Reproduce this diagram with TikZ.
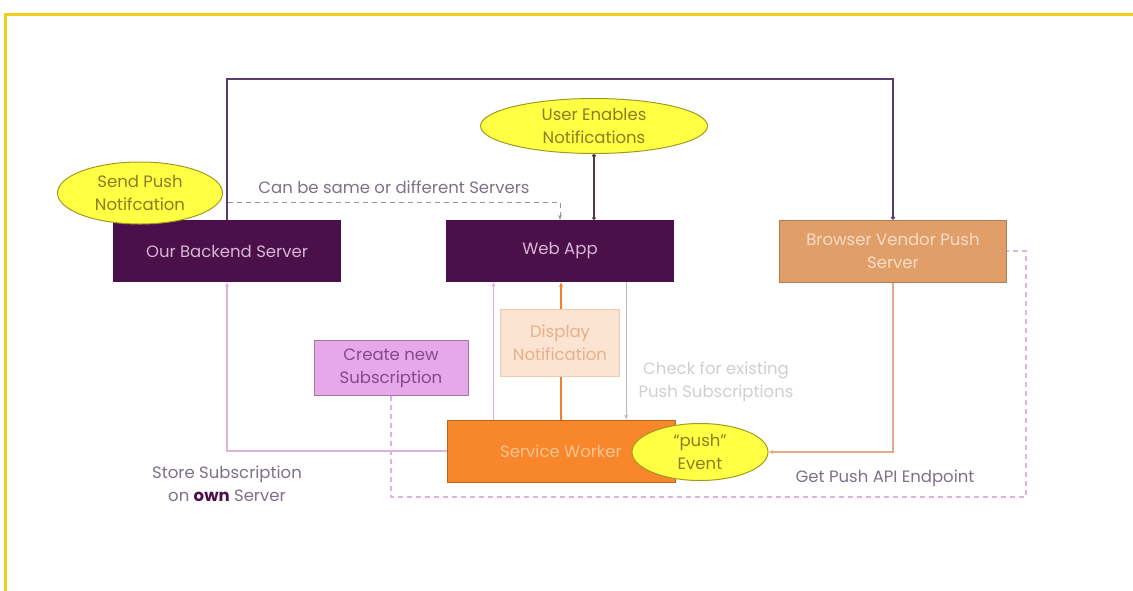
\documentclass[tikz,border=0pt]{standalone}
\usepackage{fontspec}
\setmainfont{Poppins}
\usetikzlibrary{arrows.meta,shapes.geometric,backgrounds}

\definecolor{frameyellow}{HTML}{F3CC1A}
\definecolor{plum}{HTML}{4B1049}
\definecolor{plumtext}{HTML}{D8B6D8}
\definecolor{topviolet}{HTML}{5E3A6E}
\definecolor{vendorfill}{HTML}{E09E68}
\definecolor{vendortext}{HTML}{F8DCC6}
\definecolor{workerfill}{HTML}{F7872A}
\definecolor{workertext}{HTML}{FBC490}
\definecolor{peachfill}{HTML}{FCE4D2}
\definecolor{peachdraw}{HTML}{F0CBAE}
\definecolor{peachtext}{HTML}{E6B088}
\definecolor{orchidfill}{HTML}{E6A8E8}
\definecolor{orchiddraw}{HTML}{A474A6}
\definecolor{orchidtext}{HTML}{86488C}
\definecolor{bubblefill}{HTML}{FFFF44}
\definecolor{bubbledraw}{HTML}{A09A22}
\definecolor{bubbletext}{HTML}{8A7E22}
\definecolor{lilac}{HTML}{DDB2DE}
\definecolor{lightgrey}{HTML}{BDB8C4}
\definecolor{tanline}{HTML}{E2AA8C}
\definecolor{orangeline}{HTML}{F0822E}
\definecolor{labelgrey}{HTML}{7E7088}
\definecolor{paletext}{HTML}{CFCFCF}
\definecolor{darkline}{HTML}{4A3A4A}

\begin{document}
\begin{tikzpicture}[x=1pt,y=-1pt,
  every node/.style={font=\fontsize{16.5}{23}\selectfont, align=center, inner sep=0pt},
  box/.style={rectangle, minimum height=62pt},
  darkbox/.style={box, fill=plum, text=plumtext, minimum width=228pt},
  vendorbox/.style={box, fill=vendorfill, draw=vendorfill!80!black, line width=0.8pt, text=vendortext, minimum width=227pt},
  workerbox/.style={box, fill=workerfill, draw=workerfill!75!black, line width=0.8pt, text=workertext, minimum width=228pt},
  displaybox/.style={rectangle, fill=peachfill, draw=peachdraw, line width=0.8pt, text=peachtext, minimum width=119pt, minimum height=67pt},
  createbox/.style={rectangle, fill=orchidfill, draw=orchiddraw, line width=0.8pt, text=orchidtext, minimum width=154pt, minimum height=55pt},
  bubble/.style={ellipse, fill=bubblefill, draw=bubbledraw, line width=1pt, text=bubbletext},
  lbl/.style={text=labelgrey},
  tip/.style={-{Stealth[length=5pt,width=4pt]}},
  toplink/.style={draw=topviolet, line width=1.6pt},
  framestroke/.style={draw=frameyellow, line width=3pt}
]
\useasboundingbox (0,0) rectangle (1133,590);

% outer frame
\draw[framestroke] (5,592) -- (5,14) -- (1136,14);

% nodes
\node[darkbox] (backend) at (227,251) {Our Backend Server};
\node[darkbox] (webapp) at (560,251) {Web App};
\node[vendorbox] (vendor) at (893,251) {Browser Vendor Push\\Server};
\node[bubble, minimum width=227pt, minimum height=55pt] (enable) at (594,126) {User Enables\\Notifications};
\node[bubble, minimum width=165pt, minimum height=62pt] (send) at (140,193) {Send Push\\Notifcation};
\node[displaybox] (display) at (560,343) {Display\\Notification};
\node[createbox] (create) at (391,368) {Create new\\Subscription};
\node[workerbox] (worker) at (561,451) {Service Worker};
\node[bubble, minimum width=136pt, minimum height=57pt] (push) at (700,452) {``push''\\Event};

% labels
\node[lbl] (samelbl) at (394,187) {Can be same or different Servers};
\node[text=paletext] (checklbl) at (716,382) {Check for existing\\Push Subscriptions};
\node[lbl] (storelbl) at (227,484) {Store Subscription\\on {\bfseries\color{plum}own} Server};
\node[lbl] (endpointlbl) at (885,478) {Get Push API Endpoint};

\coordinate (dashstart) at (228,202);
\coordinate (endpointcorner) at (1026,497);

\begin{scope}[on background layer]
  % backend to vendor push server
  \draw[toplink, -{Circle[length=4pt]}] (backend.north) -- ++(0,-141) -| (vendor.north);
  % user enables notifications <-> web app
  \draw[draw=darkline, line width=1.4pt, {Circle[length=3.5pt]}-{Circle[length=3.5pt]}]
    (enable.south) -- (enable.south |- webapp.north);
  % same or different servers
  \draw[draw=lightgrey!80!black, line width=1pt, dashed, dash pattern=on 5pt off 4pt, tip]
    (dashstart) -| (webapp.north);
  % service worker shows notification in web app
  \draw[draw=orangeline, line width=1.4pt, tip] (worker.north) -- (worker.north |- webapp.south);
  % web app and service worker subscription links
  \draw[draw=lilac, line width=1.2pt, tip] ([xshift=47pt]worker.north west) -- ([xshift=47pt]worker.north west |- webapp.south);
  \draw[draw=lightgrey, line width=1.2pt, tip] ([xshift=-48pt]webapp.south east) -- ([xshift=-48pt]webapp.south east |- worker.north);
  % store subscription on own server
  \draw[draw=lilac, line width=1.2pt, tip] (worker.west) -| (backend.south);
  % get push api endpoint
  \draw[draw=lilac, line width=1.2pt, dashed, dash pattern=on 5pt off 4pt]
    (create.south) |- (endpointcorner) |- (vendor.east);
  % push event from vendor server
  \draw[draw=tanline, line width=1.4pt, tip] (vendor.south) |- (push.east);
\end{scope}
\end{tikzpicture}
\end{document}
